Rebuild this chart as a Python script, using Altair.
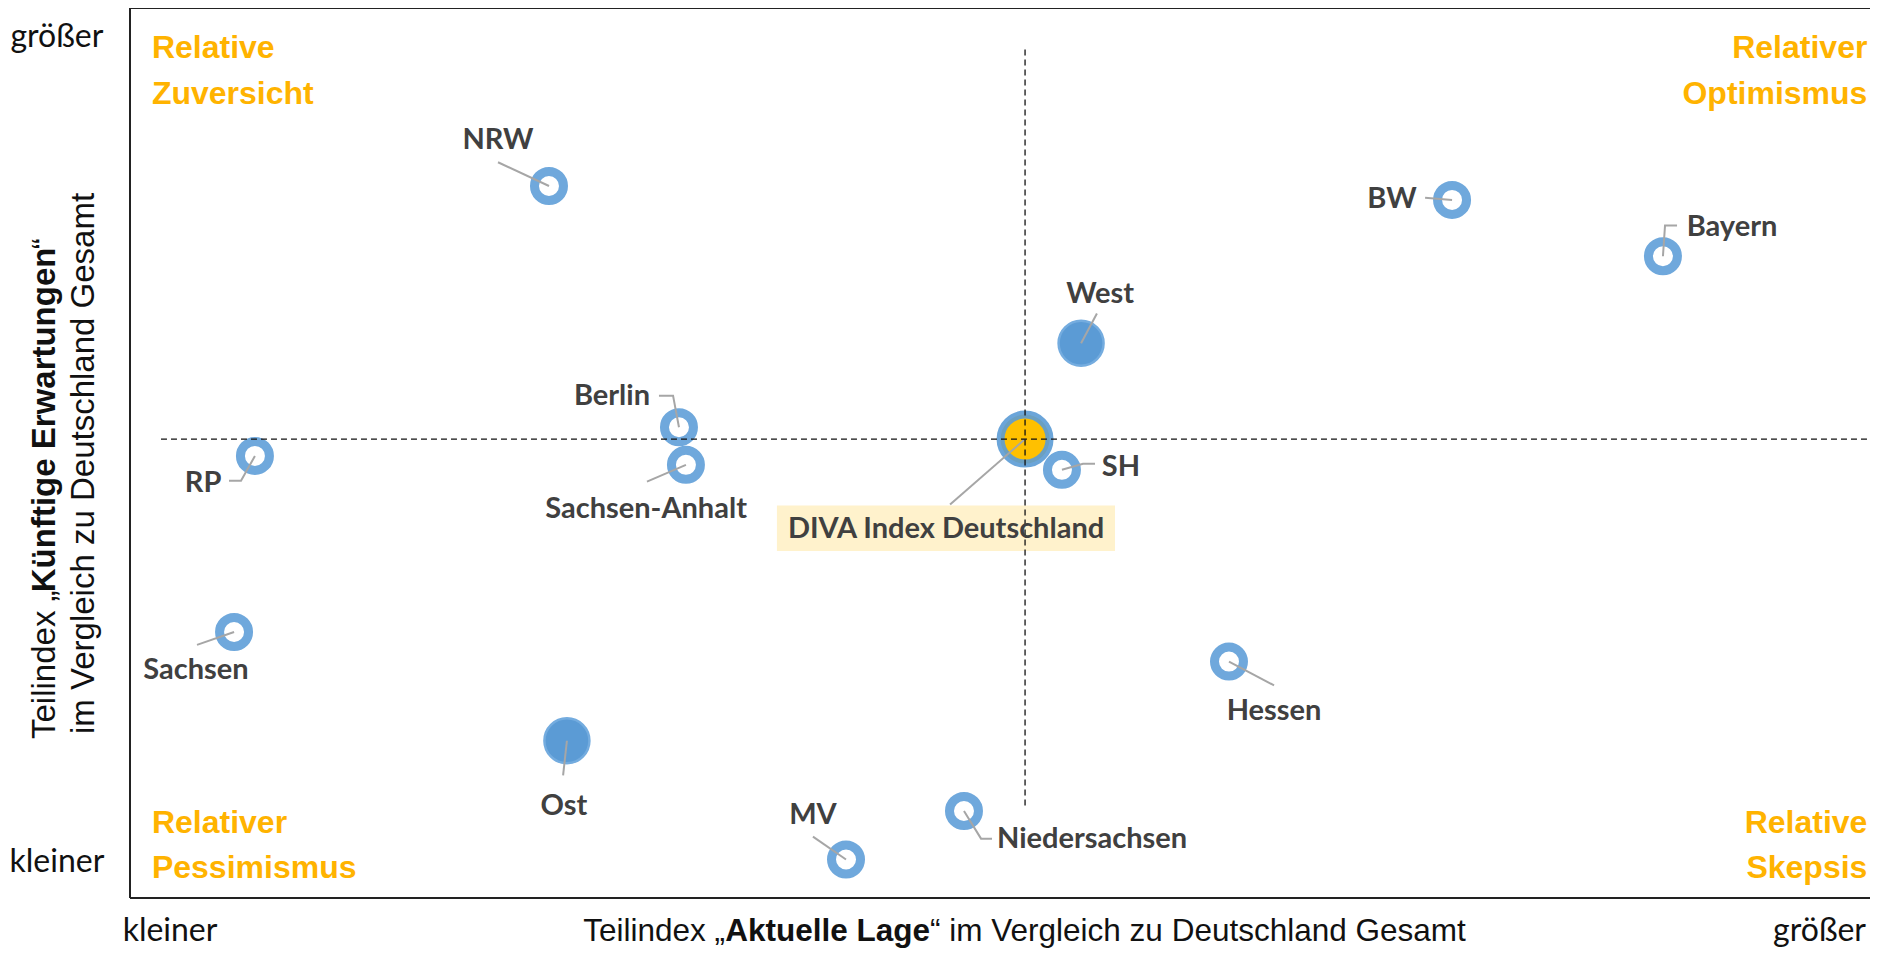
import altair as alt
import pandas as pd

# ---- data (plot units 0..100 on both axes) ----
regions = ["NRW", "BW", "Bayern", "West", "Berlin", "Sachsen-Anhalt", "DIVA Index Deutschland",
           "SH", "RP", "Sachsen", "Hessen", "Ost", "MV", "Niedersachsen"]
kind = ["ring", "ring", "ring", "group", "ring", "ring", "total",
        "ring", "ring", "ring", "ring", "group", "ring", "ring"]
lage = [24.08, 75.98, 88.10, 54.66, 31.55, 31.95, 51.44, 53.56, 7.18, 5.98, 63.16, 25.11, 41.15, 47.93]
erwartung = [80.0, 78.44, 72.11, 62.33, 52.89, 48.67, 51.56, 48.11, 49.67, 29.89, 26.56, 17.67, 4.33, 9.78]

label_x = [21.15, 72.53, 92.07, 55.75, 27.70, 29.66, 46.90, 56.95, 4.20, 3.79, 65.75, 24.94, 39.25, 55.29]
label_y = [85.22, 78.56, 75.44, 67.89, 56.44, 43.67, 41.44, 48.44, 46.67, 25.67, 21.00, 10.33, 9.33, 6.67]

# leader lines: start near label, optional elbow, end at point
lead_sx = [21.15, 74.43, 88.91, 55.57, 30.40, 29.71, 47.13, 55.46, 5.69, 3.85, 65.75, 24.89, 39.25, 49.54]
lead_sy = [82.67, 78.67, 75.56, 65.67, 56.44, 46.78, 44.22, 48.78, 46.89, 28.44, 23.89, 13.78, 6.89, 6.67]
lead_ex = [None, None, 88.22, None, 31.21, None, None, 54.77, 6.38, None, None, None, None, 48.91]
lead_ey = [None, None, 75.56, None, 56.44, None, None, 48.78, 46.89, None, None, None, None, 6.67]

quadrants = ["Relative\nZuversicht", "Relativer\nOptimismus", "Relativer\nPessimismus", "Relative\nSkepsis"]

# ---- tables ----
pts = pd.DataFrame({"region": regions, "kind": kind, "x": lage, "y": erwartung})
labels = pd.DataFrame({"region": regions, "x": label_x, "y": label_y})

rows = []
for i, r in enumerate(regions):
    rows.append({"region": r, "o": 0, "x": lead_sx[i], "y": lead_sy[i]})
    if lead_ex[i] is not None:
        rows.append({"region": r, "o": 1, "x": lead_ex[i], "y": lead_ey[i]})
    rows.append({"region": r, "o": 2, "x": lage[i], "y": erwartung[i]})
leaders = pd.DataFrame(rows)

cx = lage[regions.index("DIVA Index Deutschland")]
cy = erwartung[regions.index("DIVA Index Deutschland")]

xs = alt.Scale(domain=[0, 100], nice=False, zero=False)
ys = alt.Scale(domain=[0, 100], nice=False, zero=False)


def X(f="x"):
    return alt.X(f"{f}:Q", scale=xs, axis=None)


def Y(f="y"):
    return alt.Y(f"{f}:Q", scale=ys, axis=None)


NARROW = "Liberation Sans, Arial, sans-serif"

frame = alt.Chart(pd.DataFrame({
    "x": [0, 0, 0], "x2": [0, 100, 100], "y": [0, 100, 0], "y2": [100, 100, 0]
})).mark_rule(color="#222222", strokeWidth=2).encode(x=X(), x2="x2:Q", y=Y(), y2="y2:Q")

box = alt.Chart(pd.DataFrame({"x": [37.18], "x2": [56.61], "y": [44.11], "y2": [39.0]})).mark_rect(
    color="#FFF2CC").encode(x=X(), x2="x2:Q", y=Y(), y2="y2:Q")

rings = alt.Chart(pts[pts.kind == "ring"]).mark_point(
    shape="circle", filled=False, fill="white", fillOpacity=1, stroke="#6FA8DC", strokeWidth=9,
    size=841, opacity=1).encode(x=X(), y=Y())

groups = alt.Chart(pts[pts.kind == "group"]).mark_point(
    shape="circle", filled=True, fill="#5B9BD5", stroke="#74ACDF", strokeWidth=2.5,
    size=2025, opacity=1).encode(x=X(), y=Y())

total = alt.Chart(pts[pts.kind == "total"]).mark_point(
    shape="circle", filled=True, fill="#FFC000", stroke="#5B9BD5", strokeWidth=8, strokeOpacity=0.9,
    size=2401, opacity=1).encode(x=X(), y=Y())

lead = alt.Chart(leaders).mark_line(color="#A6A6A6", strokeWidth=2).encode(
    x=X(), y=Y(), detail="region:N", order="o:Q")

dash_df = pd.DataFrame({"x": [1.78, cx], "x2": [100, cx], "y": [cy, 95.33], "y2": [cy, 10.11]})
dashes = alt.Chart(dash_df).mark_rule(color="#111111", strokeWidth=1.3, strokeDash=[6, 4]).encode(
    x=X(), x2="x2:Q", y=Y(), y2="y2:Q")

lab = alt.Chart(labels).mark_text(font="Lato", fontWeight="bold", fontSize=29, color="#404040",
                                  align="center", baseline="middle").encode(x=X(), y=Y(), text="region:N")

qdf = pd.DataFrame({"t": quadrants, "x": [1.26, 99.85, 1.26, 99.85], "y": [94.33, 94.33, 7.33, 7.33],
                    "a": ["left", "right", "left", "right"]})
qtexts = []
for _, r in qdf.iterrows():
    qtexts.append(alt.Chart(pd.DataFrame([r])).mark_text(
        font=NARROW, fontWeight="bold", fontSize=32, color="#FFB300",
        align=r["a"], baseline="alphabetic", lineBreak="\n", lineHeight=45.5).encode(
        x=X(), y=Y(), text="t:N"))

ends = pd.DataFrame({"t": ["größer", "kleiner", "kleiner", "größer"],
                     "x": [-4.2, -4.2, 2.3, 99.77], "y": [95.67, 2.89, -4.8, -4.8],
                     "a": ["center", "center", "center", "right"]})
end_layers = []
for a in ["center", "right"]:
    end_layers.append(alt.Chart(ends[ends.a == a]).mark_text(
        font="Lato", fontSize=32, color="#111111", align=a, baseline="alphabetic").encode(
        x=X(), y=Y(), text="t:N"))

# x-axis title, in parts (regular / bold / regular)
xt = pd.DataFrame({"t": ["Teilindex „", "Aktuelle Lage", "“ im Vergleich zu Deutschland Gesamt"],
                   "x": [34.20, 40.09, 45.98], "y": [-4.8, -4.8, -4.8],
                   "a": ["right", "center", "left"], "w": ["normal", "bold", "normal"]})
xt_layers = []
for i in range(3):
    r = xt.iloc[i]
    xt_layers.append(alt.Chart(xt.iloc[[i]]).mark_text(
        font=NARROW, fontSize=31.5, fontWeight=r["w"], color="#111111",
        align=r["a"], baseline="alphabetic").encode(x=X(), y=Y(), text="t:N"))

# y-axis title, two rotated lines
yt = pd.DataFrame({"t": ["Teilindex „", "Künftige Erwartungen", "“", "im Vergleich zu Deutschland Gesamt"],
                   "x": [-4.89, -4.89, -4.89, -2.64], "y": [34.56, 53.72, 72.89, 48.83],
                   "a": ["right", "center", "left", "center"], "w": ["normal", "bold", "normal", "normal"]})
yt_layers = []
for i in range(4):
    r = yt.iloc[i]
    yt_layers.append(alt.Chart(yt.iloc[[i]]).mark_text(
        font=NARROW, fontSize=33, fontWeight=r["w"], color="#111111", angle=270,
        align=r["a"], baseline="middle").encode(x=X(), y=Y(), text="t:N"))

chart = alt.layer(box, rings, groups, total, lead, dashes, frame, lab, *qtexts, *end_layers,
                  *xt_layers, *yt_layers).properties(
    width=1740, height=890,
    padding={"left": 122, "top": 0, "right": 0, "bottom": 50},
    autosize=alt.AutoSizeParams(type="none"),
    background="white",
).configure_view(stroke=None)

chart.save("out.html", embed_options={"renderer": "svg", "actions": False})
